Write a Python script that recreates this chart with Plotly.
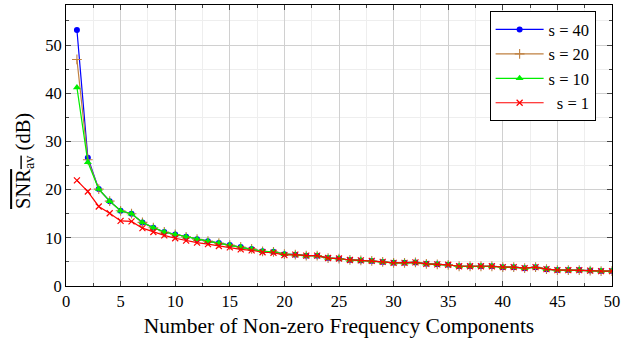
import plotly.graph_objects as go

components = list(range(1, 51))

tail = [7.2, 7.1, 6.6, 6.5, 6.3, 6.3, 5.8, 5.7, 5.4, 5.3, 5.2, 5.0, 4.8, 4.8, 4.9, 4.6,
        4.5, 4.4, 4.1, 4.1, 4.1, 4.1, 3.9, 3.9, 3.7, 3.9, 3.5, 3.3, 3.3, 3.3, 3.2, 3.1, 3.1]
head_common = [20.1, 17.6, 15.6, 15.0, 13.2, 12.1, 11.2, 10.7, 10.2, 9.7, 9.3, 8.9, 8.5, 8.1, 7.7]

snr_s40 = [53.1, 26.6] + head_common + tail
snr_s20 = [47.0, 26.2] + head_common + tail
snr_s10 = [41.2, 25.7] + head_common + tail
snr_s1 = [21.9, 19.6, 16.5, 15.1, 13.5, 13.4, 12.0, 11.2, 10.5, 9.9, 9.4, 9.0, 8.7, 8.3,
          8.0, 7.6, 7.4, 7.0, 6.9, 6.4] + tail[3:]

series = [
    ("s = 40", snr_s40, "#0000ff", dict(symbol="circle", size=6)),
    ("s = 20", snr_s20, "#bf8040", dict(symbol="cross-thin", size=7, line=dict(width=1.1, color="#bf8040"))),
    ("s = 10", snr_s10, "#00ee00", dict(symbol="triangle-up", size=7)),
    ("\u2002s = 1", snr_s1, "#ff0000", dict(symbol="x-thin", size=6, line=dict(width=1.2, color="#ff0000"))),
]

fig = go.Figure()
for name, ys, color, marker in series:
    m = dict(color=color)
    m.update(marker)
    fig.add_trace(go.Scatter(x=components, y=ys, mode="lines+markers", name=name,
                             line=dict(color=color, width=1.2), marker=m))

font_family = "Liberation Serif"
axis_common = dict(
    showline=True, linecolor="black", linewidth=1, mirror="allticks",
    ticks="inside", ticklen=5, tickcolor="#444", tickwidth=1,
    showgrid=True, gridcolor="#d0d0d0", gridwidth=1, zeroline=False,
    tickfont=dict(family=font_family, size=16.5, color="black"),
    ticklabeloverflow="allow",
)

fig.update_xaxes(range=[0, 50], tick0=0, dtick=5,
                 minor=dict(dtick=2.5, showgrid=True, gridcolor="#eeeeee", ticks="inside", ticklen=3, tickcolor="#444"),
                 title=dict(text="Number of Non-zero Frequency Components",
                            font=dict(family=font_family, size=21.5, color="black"), standoff=8),
                 **axis_common)
fig.update_yaxes(range=[0, 58.3], tick0=0, dtick=10,
                 minor=dict(dtick=5, showgrid=True, gridcolor="#eeeeee", ticks="inside", ticklen=3, tickcolor="#444"),
                 **axis_common)

fig.add_annotation(
    text='<span style="text-decoration:overline">SNR<sub>av</sub></span> (dB)',
    textangle=-90, xref="paper", yref="paper", x=-0.075, y=0.445,
    xanchor="center", yanchor="middle", showarrow=False,
    font=dict(family=font_family, size=20.5, color="black"),
)

fig.update_layout(
    width=624, height=343,
    margin=dict(l=66, r=7, t=4, b=57),
    plot_bgcolor="white", paper_bgcolor="white",
    font=dict(family=font_family, color="black"),
    legend=dict(x=0.97, y=0.978, xanchor="right", yanchor="top",
                bgcolor="white", bordercolor="black", borderwidth=1,
                font=dict(family=font_family, size=16.5, color="black"),
                itemwidth=48, tracegroupgap=0),
)

fig.write_html("out.html")
